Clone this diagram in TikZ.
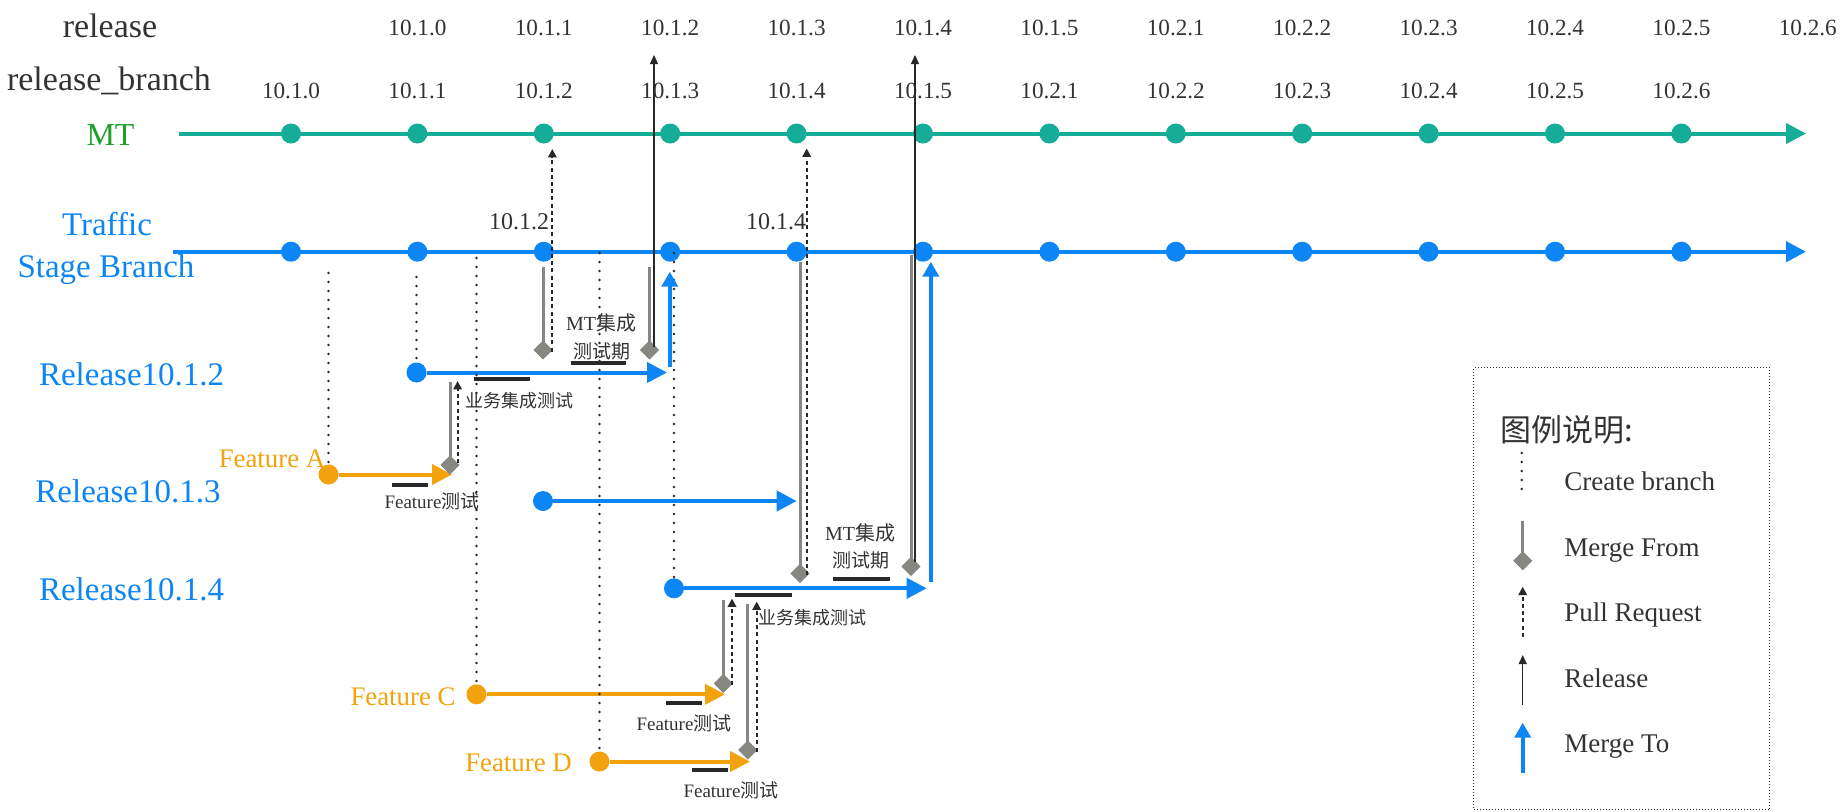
\documentclass[tikz,border=0pt]{standalone}
\usepackage{fontspec}
\setmainfont{Liberation Serif}
\newfontfamily\cjk{Noto Sans CJK SC}
\usetikzlibrary{arrows.meta,shapes.geometric}
\definecolor{mtteal}{RGB}{21,173,152}
\definecolor{mtgreen}{RGB}{30,160,40}
\definecolor{tblue}{RGB}{12,133,245}
\definecolor{forange}{RGB}{242,162,12}
\definecolor{mgray}{RGB}{135,135,130}
\definecolor{ink}{RGB}{40,40,40}
\definecolor{txt}{RGB}{51,51,51}
\begin{document}
\begin{tikzpicture}[x=0.5pt,y=-0.5pt,
  fs/.style={font=\fontsize{#1}{#1}\selectfont},
  txtnode/.style={inner sep=0,text=txt},
  dotm/.style={circle,fill=mtteal,inner sep=0,minimum size=10pt},
  dott/.style={circle,fill=tblue,inner sep=0,minimum size=10pt},
  doto/.style={circle,fill=forange,inner sep=0,minimum size=10pt},
  mtline/.style={draw=mtteal,line width=2pt,-{Triangle[length=10pt,width=10pt]}},
  tline/.style={draw=tblue,line width=2.2pt,-{Triangle[length=10pt,width=10pt]}},
  bline/.style={draw=tblue,line width=2pt,-{Triangle[length=10pt,width=10pt]}},
  oline/.style={draw=forange,line width=2pt,-{Triangle[length=10pt,width=10pt]}},
  createbr/.style={draw=ink,line width=1.3pt,line cap=round,dash pattern=on 0pt off 4.5pt},
  mergefrom/.style={draw=mgray,line width=1.5pt},
  mdiam/.style={diamond,fill=mgray,inner sep=0,minimum width=9.5pt,minimum height=9.5pt},
  pullreq/.style={draw=ink,line width=1.1pt,dash pattern=on 2pt off 1.6pt,-{Triangle[length=4.2pt,width=4.2pt]}},
  relarrow/.style={draw=ink,line width=0.7pt,-{Triangle[length=4.5pt,width=4pt]}},
  mergeto/.style={draw=tblue,line width=2pt,-{Triangle[length=7.5pt,width=8pt]}},
  bar/.style={draw=ink,line width=2pt},
]
\useasboundingbox (0,0) rectangle (1840,811);

% ---------- top labels ----------
\node[txtnode,fs=17,anchor=base] (lrelease) at (110,37) {release};
\node[txtnode,fs=17,anchor=base] (lrelbranch) at (109,90) {release\_branch};
\foreach \i/\lab in {1/10.1.0,2/10.1.1,3/10.1.2,4/10.1.3,5/10.1.4,6/10.1.5,7/10.2.1,8/10.2.2,9/10.2.3,10/10.2.4,11/10.2.5,12/10.2.6}
  \node[txtnode,fs=11.6,anchor=base] (rel\i) at ({291+126.4*\i},35) {\lab};
\foreach \i/\lab in {0/10.1.0,1/10.1.1,2/10.1.2,3/10.1.3,4/10.1.4,5/10.1.5,6/10.2.1,7/10.2.2,8/10.2.3,9/10.2.4,10/10.2.5,11/10.2.6}
  \node[txtnode,fs=11.6,anchor=base] (rb\i) at ({291+126.4*\i},98) {\lab};

% ---------- left labels ----------
\node[inner sep=0,text=mtgreen,fs=16,anchor=base] (lmt) at (110.5,145) {MT};
\node[inner sep=0,text=tblue,fs=16.5,anchor=base] (ltraffic) at (107,235) {Traffic};
\node[inner sep=0,text=tblue,fs=16.5,anchor=base] (lstage) at (106,277) {Stage Branch};
\node[inner sep=0,text=tblue,fs=16.5,anchor=base] (lr2) at (131.6,385) {Release10.1.2};
\node[inner sep=0,text=tblue,fs=16.5,anchor=base] (lr3) at (128,502.5) {Release10.1.3};
\node[inner sep=0,text=tblue,fs=16.5,anchor=base] (lr4) at (131.6,600.7) {Release10.1.4};
\node[inner sep=0,text=forange,fs=13.4,anchor=base] (lfa) at (272,467) {Feature A};
\node[inner sep=0,text=forange,fs=13.4,anchor=base] (lfc) at (403,705) {Feature C};
\node[inner sep=0,text=forange,fs=13.4,anchor=base] (lfd) at (518.5,771.7) {Feature D};
\node[txtnode,fs=12,anchor=base] (lt2) at (519,229) {10.1.2};
\node[txtnode,fs=12,anchor=base] (lt4) at (776,229) {10.1.4};

% ---------- main lines ----------
\coordinate (mtS) at (179,133.5); \coordinate (mtE) at (1806,133.5);
\coordinate (tsS) at (173,251.7); \coordinate (tsE) at (1806,251.7);
\draw[mtline] (mtS) -- (mtE);
\draw[tline] (tsS) -- (tsE);
\foreach \i in {0,...,11}{
  \node[dotm] (m\i) at ({291+126.4*\i},133.5) {};
  \node[dott] (t\i) at ({291+126.4*\i},251.7) {};
}

% ---------- branches ----------
\node[dott] (r2) at (416.5,372.5) {};
\coordinate (r2e) at (667,372.5);
\draw[bline] (r2) -- (r2e);
\node[dott] (r3) at (543,501) {};
\coordinate (r3e) at (796.7,501);
\draw[bline] (r3) -- (r3e);
\node[dott] (r4) at (674,588.3) {};
\coordinate (r4e) at (926.7,588.3);
\draw[bline] (r4) -- (r4e);
\node[doto] (fa) at (328.5,474.5) {};
\coordinate (fae) at (452,474.5);
\draw[oline] (fa) -- (fae);
\node[doto] (fc) at (476.5,694.3) {};
\coordinate (fce) at (725,694.3);
\draw[oline] (fc) -- (fce);
\node[doto] (fd) at (599.5,761.5) {};
\coordinate (fde) at (750,761.5);
\draw[oline] (fd) -- (fde);

% ---------- create branch ----------
\coordinate (cbA) at (328.5,273);
\coordinate (cbR2) at (416.5,277);
\coordinate (cbC) at (476.5,258);
\coordinate (cbD) at (599.5,253);
\coordinate (cbR4) at (674,253);
\draw[createbr] (cbA) -- (fa);
\draw[createbr] (cbR2) -- (r2);
\draw[createbr] (cbC) -- (fc);
\draw[createbr] (cbD) -- (fd);
\draw[createbr] (cbR4) -- (r4);

% ---------- merge from ----------
\foreach \n/\x/\ya/\yb in {1/543/267/350, 2/649.5/267/350, 3/450/382/465, 4/800/262/573.5, 5/911/255/566.5, 6/723.3/600/683.5, 7/747.7/603.5/750}{
  \coordinate (mfs\n) at (\x,\ya);
  \node[mdiam] (mfd\n) at (\x,\yb) {};
  \draw[mergefrom] (mfs\n) -- (mfd\n.center);
  \node[mdiam] at (mfd\n) {};
}

% ---------- pull requests ----------
\foreach \n/\x/\ya/\yb in {1/552.3/351.5/149, 2/806.7/575/148.5, 3/457.6/463/381, 4/732/685/598.5, 5/756.7/751.5/601.5}{
  \coordinate (prs\n) at (\x,\ya);
  \coordinate (pre\n) at (\x,\yb);
  \draw[pullreq] (prs\n) -- (pre\n);
}

% ---------- release ----------
\coordinate (rls1) at (654,347); \coordinate (rle1) at (654,55);
\coordinate (rls2) at (915,562); \coordinate (rle2) at (915,55);
\draw[relarrow] (rls1) -- (rle1);
\draw[relarrow] (rls2) -- (rle2);

% ---------- merge to ----------
\coordinate (mts1) at (669.8,366.7); \coordinate (mte1) at (669.8,271.7);
\coordinate (mts2) at (930.8,581.7); \coordinate (mte2) at (930.8,261.7);
\draw[mergeto] (mts1) -- (mte1);
\draw[mergeto] (mts2) -- (mte2);

% ---------- annotation labels and bars ----------
\node[txtnode,fs=10] (a1) at (601,323.3) {MT{\cjk 集成}};
\node[txtnode,fs=9.5] (a2) at (601.5,351.7) {{\cjk 测试期}};
\node[txtnode,fs=9] (a3) at (519,400.7) {{\cjk 业务集成测试}};
\node[txtnode,fs=9.5] (a4) at (432,501.7) {Feature{\cjk 测试}};
\node[txtnode,fs=10] (a5) at (860,532.5) {MT{\cjk 集成}};
\node[txtnode,fs=9.5] (a6) at (860.5,560) {{\cjk 测试期}};
\node[txtnode,fs=9] (a7) at (812,617.3) {{\cjk 业务集成测试}};
\node[txtnode,fs=9.5] (a8) at (684,723.3) {Feature{\cjk 测试}};
\node[txtnode,fs=9.5] (a9) at (731,790) {Feature{\cjk 测试}};
\foreach \n/\xa/\xb/\y in {1/570.5/626/363.3, 2/474/530/379.3, 3/392/428/485, 4/833/890/578.5, 5/735/791.7/595, 6/666/701.7/703.3, 7/691.7/728.3/770}{
  \coordinate (bs\n) at (\xa,\y);
  \coordinate (be\n) at (\xb,\y);
  \draw[bar] (bs\n) -- (be\n);
}

% ---------- legend ----------
\node[draw=ink,line width=0.5pt,densely dotted,inner sep=0,minimum width=148pt,minimum height=221pt,anchor=north west] (legend) at (1473.3,367.3) {};
\node[txtnode,fs=15.5] (lgtitle) at (1566.7,430) {{\cjk 图例说明:}};
\coordinate (lg1a) at (1521.7,453); \coordinate (lg1b) at (1521.7,498);
\draw[createbr] (lg1a) -- (lg1b);
\node[txtnode,fs=13.5,anchor=base west] (lgt1) at (1564,490) {Create branch};
\coordinate (lg2a) at (1522.7,520.7);
\node[mdiam] (lg2d) at (1522.7,560.7) {};
\draw[mergefrom] (lg2a) -- (lg2d.center);
\node[mdiam] at (lg2d) {};
\node[txtnode,fs=13.5,anchor=base west] (lgt2) at (1564,556) {Merge From};
\coordinate (lg3a) at (1522.7,636.7); \coordinate (lg3b) at (1522.7,586.7);
\draw[pullreq] (lg3a) -- (lg3b);
\node[txtnode,fs=13.5,anchor=base west] (lgt3) at (1564,621.7) {Pull Request};
\coordinate (lg4a) at (1522.7,705); \coordinate (lg4b) at (1522.7,655);
\draw[relarrow] (lg4a) -- (lg4b);
\node[txtnode,fs=13.5,anchor=base west] (lgt4) at (1564,687.7) {Release};
\coordinate (lg5a) at (1522.7,772.7); \coordinate (lg5b) at (1522.7,722.7);
\draw[mergeto] (lg5a) -- (lg5b);
\node[txtnode,fs=13.5,anchor=base west] (lgt5) at (1564,752.7) {Merge To};
\end{tikzpicture}
\end{document}
